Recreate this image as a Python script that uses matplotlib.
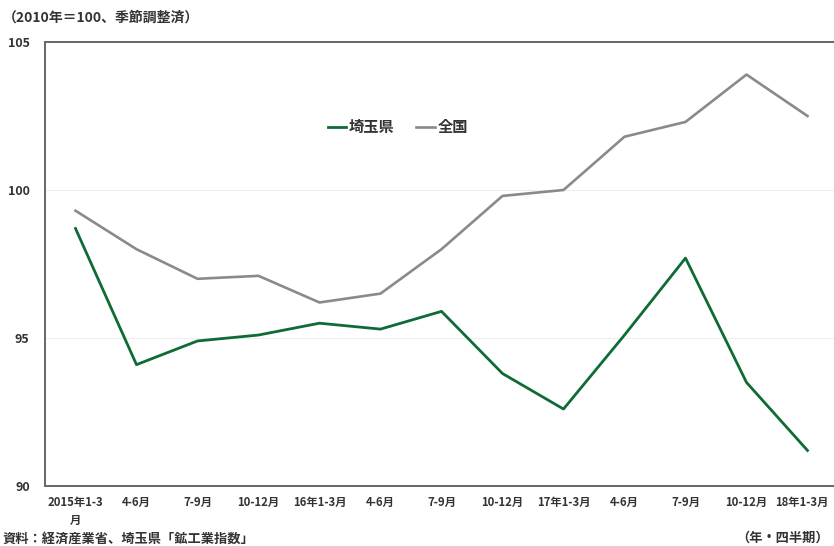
import matplotlib.pyplot as plt
from matplotlib.transforms import ScaledTranslation

plt.rcParams['font.family'] = ['Noto Sans CJK JP', 'DejaVu Sans']
plt.rcParams['font.weight'] = 'bold'

quarters = ['2015年1-3\n月', '4-6月', '7-9月', '10-12月', '16年1-3月', '4-6月', '7-9月',
            '10-12月', '17年1-3月', '4-6月', '7-9月', '10-12月', '18年1-3月']
saitama = [98.7, 94.1, 94.9, 95.1, 95.5, 95.3, 95.9, 93.8, 92.6, 95.1, 97.7, 93.5, 91.2]
national = [99.3, 98.0, 97.0, 97.1, 96.2, 96.5, 98.0, 99.8, 100.0, 101.8, 102.3, 103.9, 102.5]
yticks = [90, 95, 100, 105]

W, H = 834, 546
fig = plt.figure(figsize=(W / 100, H / 100), dpi=100)
# plot area: left 45px, top 42px, bottom 486px, runs slightly past right edge
ax = fig.add_axes([45 / W, 1 - 486 / H, (838 - 45) / W, (486 - 42) / H])

x = list(range(len(quarters)))
ax.plot(x, national, color='#8a8a8a', lw=1.9, label='全国', zorder=3)
ax.plot(x, saitama, color='#0e6b35', lw=2.0, label='埼玉県', zorder=4)

ax.set_xlim(-0.5, len(quarters) - 0.5)
ax.set_ylim(90, 105)
ax.set_yticks(yticks)
ax.set_yticklabels([str(v) for v in yticks], fontsize=9, color='#333333')
ax.set_xticks(x)
ax.set_xticklabels(quarters, fontsize=8.2, color='#333333', linespacing=1.55)
ax.tick_params(axis='both', length=0)
ax.tick_params(axis='y', pad=11)
ax.tick_params(axis='x', pad=7)
# nudge the last label left so it stays inside the figure
last = ax.get_xticklabels()[-1]
last.set_transform(last.get_transform() + ScaledTranslation(-4 / 72, 0, fig.dpi_scale_trans))

for v in [95, 100]:
    ax.axhline(v, color='#eeeeee', lw=0.8, zorder=1)

for side in ['top', 'left', 'bottom']:
    ax.spines[side].set_color('#666666')
    ax.spines[side].set_linewidth(1.4)
ax.spines['right'].set_visible(False)

handles, labels = ax.get_legend_handles_labels()
leg = ax.legend(handles[::-1], labels[::-1], loc='center', bbox_to_anchor=(398 / W, 1 - 127 / H),
                bbox_transform=fig.transFigure, ncol=2, frameon=False, fontsize=11,
                handlelength=1.2, handletextpad=0.2, columnspacing=1.4)
for t in leg.get_texts():
    t.set_color('#333333')

fig.text(3 / W, 1 - 18 / H, '（2010年＝100、季節調整済）', fontsize=10, color='#333333',
         va='center', ha='left')
fig.text(3 / W, 1 - 539 / H, '資料：経済産業省、埼玉県「鉱工業指数」', fontsize=9.5, color='#333333',
         va='center', ha='left')
fig.text(829 / W, 1 - 538 / H, '（年・四半期）', fontsize=9.5, color='#333333',
         va='center', ha='right')

fig.savefig('out.png', dpi=100)
